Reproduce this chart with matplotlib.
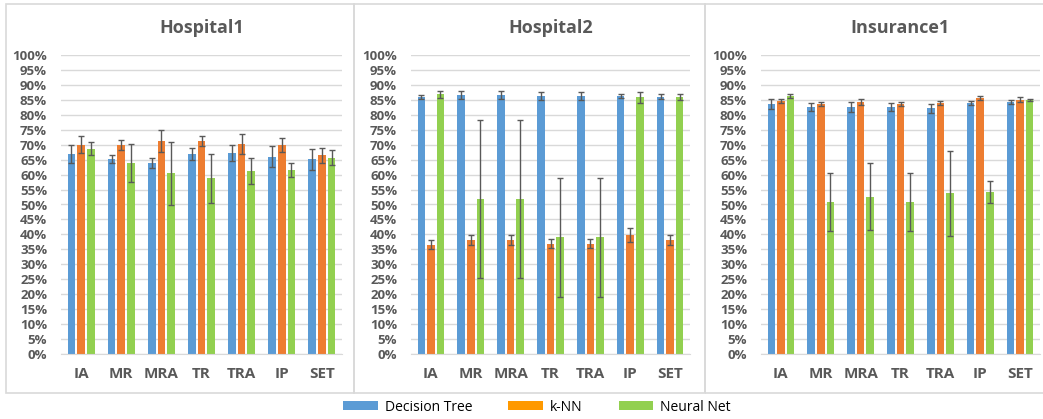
import numpy as np
import matplotlib
matplotlib.use("Agg")
import matplotlib.pyplot as plt
from matplotlib.patches import Rectangle, Patch

plt.rcParams["font.family"] = ["Open Sans", "DejaVu Sans"]

categories = ["IA", "MR", "MRA", "TR", "TRA", "IP", "SET"]
models = ["Decision Tree", "k-NN", "Neural Net"]
panels = ["Hospital1", "Hospital2", "Insurance1"]

# mean accuracy (%) per panel, model
h1_dt = [66.9, 65.2, 63.8, 66.9, 67.2, 66.0, 65.1]
h1_knn = [70.0, 69.8, 71.2, 71.2, 70.2, 70.0, 66.4]
h1_nn = [68.6, 63.8, 60.4, 58.7, 61.3, 61.6, 65.6]
h1_dt_err = [3.0, 1.4, 1.6, 1.9, 2.7, 3.6, 3.4]
h1_knn_err = [2.8, 1.7, 3.8, 1.6, 3.4, 2.3, 2.6]
h1_nn_err = [2.2, 6.4, 10.6, 8.2, 4.4, 2.3, 2.5]

h2_dt = [86.0, 86.7, 86.7, 86.4, 86.4, 86.3, 86.1]
h2_knn = [36.6, 38.1, 38.1, 36.9, 36.9, 39.8, 38.0]
h2_nn = [86.8, 51.9, 51.9, 39.0, 39.0, 85.8, 85.8]
h2_dt_err = [0.7, 1.3, 1.3, 1.3, 1.3, 0.7, 0.9]
h2_knn_err = [1.6, 1.7, 1.7, 1.5, 1.5, 2.3, 1.7]
h2_nn_err = [1.1, 26.5, 26.5, 19.9, 19.9, 1.8, 1.0]

i1_dt = [83.6, 82.6, 82.6, 82.6, 82.2, 83.9, 84.2]
i1_knn = [84.6, 83.6, 84.2, 83.6, 83.9, 85.6, 85.1]
i1_nn = [86.2, 50.8, 52.6, 50.8, 53.8, 54.2, 85.0]
i1_dt_err = [1.7, 1.3, 1.7, 1.3, 1.5, 0.7, 0.7]
i1_knn_err = [0.8, 0.7, 1.0, 0.7, 0.7, 0.6, 0.7]
i1_nn_err = [0.7, 9.7, 11.2, 9.7, 14.2, 3.6, 0.4]

values = [[h1_dt, h1_knn, h1_nn], [h2_dt, h2_knn, h2_nn], [i1_dt, i1_knn, i1_nn]]
errors = [[h1_dt_err, h1_knn_err, h1_nn_err],
          [h2_dt_err, h2_knn_err, h2_nn_err],
          [i1_dt_err, i1_knn_err, i1_nn_err]]

bar_colors = ["#5B9BD5", "#ED7D31", "#92D050"]
legend_colors = ["#5B9BD5", "#FF9900", "#92D050"]
text_gray = "#595959"

W, H = 1043, 419
fig = plt.figure(figsize=(W / 100, H / 100), dpi=100)

# panel frames (pixel coords -> figure fraction)
frames = [(6, 354), (354, 705), (705, 1045)]
for x0, x1 in frames:
    fig.patches.append(Rectangle((x0 / W, 1 - 393 / H), (x1 - x0) / W, 389 / H,
                                 transform=fig.transFigure, fill=False,
                                 edgecolor="#D9D9D9", linewidth=1.2))

axes_x = [(61, 342), (411, 690), (761, 1040)]
y_top, y_bot = 55, 354
x = np.arange(len(categories))
width = 0.19
offsets = [-0.24, 0.0, 0.24]

for p, (xa, xb) in enumerate(axes_x):
    ax = fig.add_axes([xa / W, 1 - y_bot / H, (xb - xa) / W, (y_bot - y_top) / H])
    for m in range(3):
        ax.bar(x + offsets[m], values[p][m], width=width, color=bar_colors[m],
               zorder=2)
        ax.errorbar(x + offsets[m], values[p][m], yerr=errors[p][m], fmt="none",
                    ecolor="#595959", elinewidth=1, capsize=2.2, capthick=1,
                    zorder=3)
    ax.set_ylim(0, 100)
    ax.set_xlim(-0.5, len(categories) - 0.5)
    ax.set_yticks(np.arange(0, 101, 5))
    ax.set_yticklabels([f"{v}%" for v in range(0, 101, 5)])
    ax.set_xticks(x)
    ax.set_xticklabels(categories)
    ax.grid(axis="y", color="#D9D9D9", linewidth=1, zorder=0)
    for s in ["top", "right", "left"]:
        ax.spines[s].set_visible(False)
    ax.spines["bottom"].set_color("#D9D9D9")
    ax.tick_params(axis="both", length=0, colors=text_gray)
    ax.tick_params(axis="y", labelsize=9.5, pad=10)
    ax.tick_params(axis="x", labelsize=11, pad=9)
    for lab in ax.get_yticklabels() + ax.get_xticklabels():
        lab.set_fontweight("bold")
    ax.set_title(panels[p], fontsize=13, fontweight="bold", color=text_gray,
                 pad=16)

handles = [Patch(facecolor=c, edgecolor="none") for c in legend_colors]
fig.legend(handles, models, loc="center", bbox_to_anchor=(537 / W, 1 - 407 / H),
           ncol=3, frameon=False, fontsize=10, handlelength=2.5, handleheight=0.6,
           columnspacing=2.6, handletextpad=0.5)

fig.savefig("out.png", dpi=100)
